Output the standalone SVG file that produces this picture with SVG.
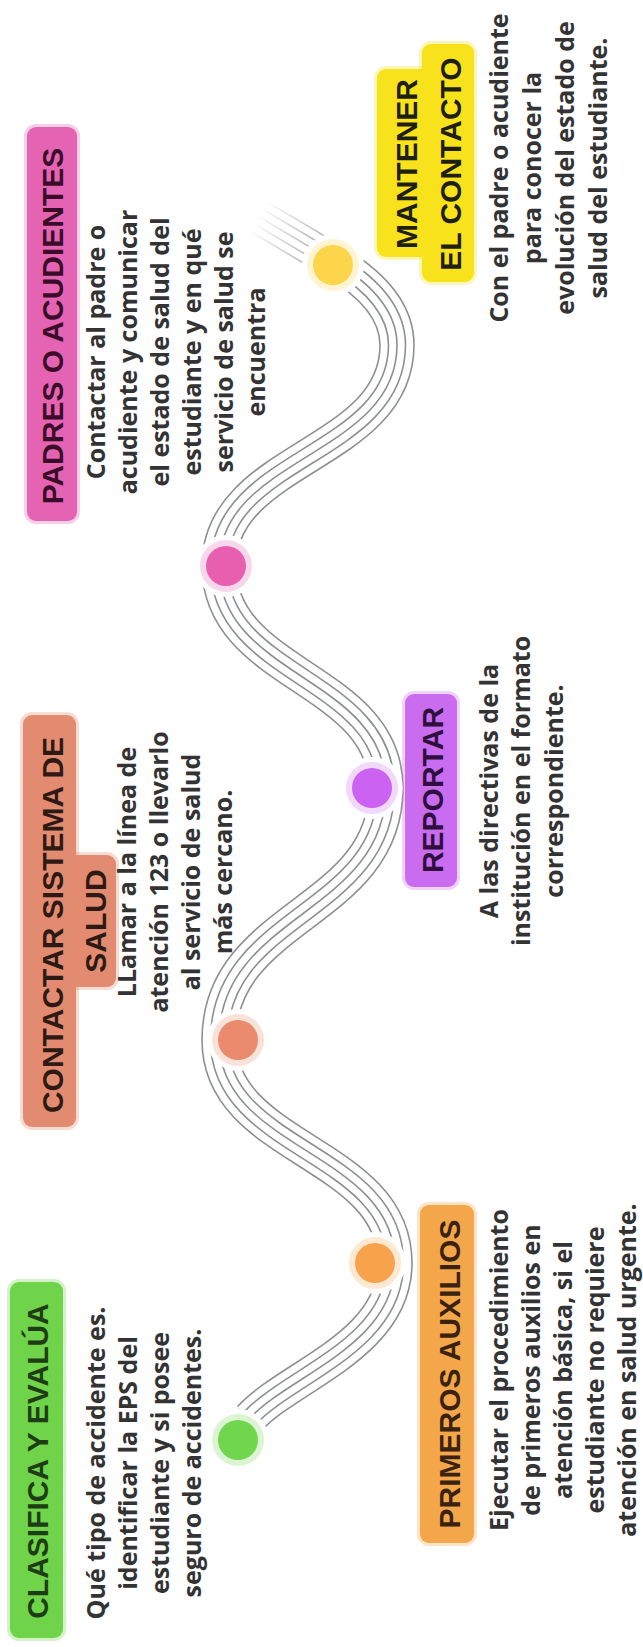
<svg xmlns="http://www.w3.org/2000/svg" xmlns:xlink="http://www.w3.org/1999/xlink" width="643" height="1647" viewBox="0 0 643 1647">
<style>
.lbl{font-family:"Liberation Sans",Arial,sans-serif;font-weight:bold;font-size:30px;text-anchor:middle}
.desc{font-family:"Open Sans","Liberation Sans",Arial,sans-serif;font-weight:700;font-size:25px;text-anchor:middle;fill:#333}
.g1{fill:none;stroke:#8d9092;stroke-width:35.6}
.w1{fill:none;stroke:#fff;stroke-width:32.4}
.g2{fill:none;stroke:#8d9092;stroke-width:18.6}
.w2{fill:none;stroke:#fff;stroke-width:15.4}
.g3{fill:none;stroke:#8d9092;stroke-width:1.6}
.t1{fill:none;stroke:url(#fade);stroke-width:35.6}
.t2{fill:none;stroke:url(#fade);stroke-width:18.6}
.t3{fill:none;stroke:url(#fade);stroke-width:1.6}
.halo{fill:#fff}
</style>
<defs>
<path id="road" d="M 250,1418 C 290,1375 395,1345 395,1263 C 395,1151 219,1151 219,1040 C 219,914 386,914 386,788 C 386,677 219,677 219,566 C 219,456 397,456 397,345 C 397,310 370,283 335,262"/>
<path id="tail" d="M 335,262 L 256,215"/>
<linearGradient id="fade" gradientUnits="userSpaceOnUse" x1="335" y1="262" x2="256" y2="215">
<stop offset="0" stop-color="#8d9092" stop-opacity="0.9"/>
<stop offset="1" stop-color="#8d9092" stop-opacity="0"/>
</linearGradient>
</defs>
<rect width="643" height="1647" fill="#fff"/>
<g id="connectors">
<use xlink:href="#road" class="g1"/>
<use xlink:href="#road" class="w1"/>
<use xlink:href="#road" class="g2"/>
<use xlink:href="#road" class="w2"/>
<use xlink:href="#road" class="g3"/>
<use xlink:href="#tail" class="t1"/>
<use xlink:href="#tail" class="w1"/>
<use xlink:href="#tail" class="t2"/>
<use xlink:href="#tail" class="w2"/>
<use xlink:href="#tail" class="t3"/>
</g>
<g id="clasifica">
<circle class="halo" cx="238" cy="1440" r="31"/>
<circle cx="238" cy="1440" r="26" fill="#6fd64e" opacity="0.25"/>
<circle cx="238" cy="1440" r="20" fill="#6fd64e"/>
<rect x="10" y="1282" width="53" height="356" rx="9" fill="#6fd44a" stroke="#6fd44a" stroke-opacity="0.3" stroke-width="6"/>
<text class="lbl" fill="#1e3d14" transform="translate(48,1461) rotate(-90)">CLASIFICA Y EVALÚA</text>
<text class="desc" transform="translate(105,1463) rotate(-90)">Qué tipo de accidente es.</text>
<text class="desc" transform="translate(137,1463) rotate(-90)">identificar la EPS del</text>
<text class="desc" transform="translate(169,1463) rotate(-90)">estudiante y si posee</text>
<text class="desc" transform="translate(201,1463) rotate(-90)">seguro de accidentes.</text>
</g>
<g id="primeros">
<circle class="halo" cx="375" cy="1263" r="31"/>
<circle cx="375" cy="1263" r="26" fill="#f7a34b" opacity="0.25"/>
<circle cx="375" cy="1263" r="20" fill="#f7a34b"/>
<rect x="420" y="1205" width="54" height="338" rx="9" fill="#f4a64a" stroke="#f4a64a" stroke-opacity="0.3" stroke-width="6"/>
<text class="lbl" fill="#3a2210" transform="translate(460,1374) rotate(-90)">PRIMEROS AUXILIOS</text>
<text class="desc" transform="translate(508,1370) rotate(-90)">Ejecutar el procedimiento</text>
<text class="desc" transform="translate(540,1370) rotate(-90)">de primeros auxilios en</text>
<text class="desc" transform="translate(572,1370) rotate(-90)">atención básica, si el</text>
<text class="desc" transform="translate(604,1370) rotate(-90)">estudiante no requiere</text>
<text class="desc" transform="translate(636,1370) rotate(-90)">atención en salud urgente.</text>
</g>
<g id="contactar">
<circle class="halo" cx="238" cy="1040" r="31"/>
<circle cx="238" cy="1040" r="26" fill="#e98b6c" opacity="0.25"/>
<circle cx="238" cy="1040" r="20" fill="#e98b6c"/>
<rect x="23" y="715" width="53" height="412" rx="9" fill="#e38b70" stroke="#e38b70" stroke-opacity="0.3" stroke-width="6"/>
<rect x="68" y="855" width="48" height="132" rx="9" fill="#e38b70" stroke="#e38b70" stroke-opacity="0.3" stroke-width="6"/>
<rect x="60" y="858" width="20" height="126" fill="#e38b70"/>
<text class="lbl" fill="#2e1a14" transform="translate(63,925) rotate(-90)">CONTACTAR SISTEMA DE</text>
<text class="lbl" fill="#2e1a14" transform="translate(106,921) rotate(-90)">SALUD</text>
<text class="desc" transform="translate(136,872) rotate(-90)">LLamar a la línea de</text>
<text class="desc" transform="translate(168,872) rotate(-90)">atención 123 o llevarlo</text>
<text class="desc" transform="translate(200,872) rotate(-90)">al servicio de salud</text>
<text class="desc" transform="translate(232,872) rotate(-90)">más cercano.</text>
</g>
<g id="reportar">
<circle class="halo" cx="372" cy="788" r="31"/>
<circle cx="372" cy="788" r="26" fill="#cc62f2" opacity="0.25"/>
<circle cx="372" cy="788" r="20" fill="#cc62f2"/>
<rect x="405" y="694" width="52" height="193" rx="9" fill="#c96cf0" stroke="#c96cf0" stroke-opacity="0.3" stroke-width="6"/>
<text class="lbl" fill="#2e0f3d" transform="translate(443,790) rotate(-90)">REPORTAR</text>
<text class="desc" transform="translate(498,791) rotate(-90)">A las directivas de la</text>
<text class="desc" transform="translate(530,791) rotate(-90)">institución en el formato</text>
<text class="desc" transform="translate(563,791) rotate(-90)">correspondiente.</text>
</g>
<g id="padres">
<circle class="halo" cx="226" cy="566" r="31"/>
<circle cx="226" cy="566" r="26" fill="#e95fb0" opacity="0.25"/>
<circle cx="226" cy="566" r="20" fill="#e95fb0"/>
<rect x="27" y="127" width="50" height="394" rx="9" fill="#e563b3" stroke="#e563b3" stroke-opacity="0.3" stroke-width="6"/>
<text class="lbl" fill="#3a0c28" transform="translate(63,326) rotate(-90)">PADRES O ACUDIENTES</text>
<text class="desc" transform="translate(105,352) rotate(-90)">Contactar al padre o</text>
<text class="desc" transform="translate(137,352) rotate(-90)">acudiente y comunicar</text>
<text class="desc" transform="translate(169,352) rotate(-90)">el estado de salud del</text>
<text class="desc" transform="translate(201,352) rotate(-90)">estudiante y en qué</text>
<text class="desc" transform="translate(233,352) rotate(-90)">servicio de salud se</text>
<text class="desc" transform="translate(265,352) rotate(-90)">encuentra</text>
</g>
<g id="mantener">
<circle class="halo" cx="333" cy="265" r="31"/>
<circle cx="333" cy="265" r="26" fill="#fcd54a" opacity="0.25"/>
<circle cx="333" cy="265" r="20" fill="#fcd54a"/>
<rect x="377" y="69" width="54" height="188" rx="9" fill="#f8e21b" stroke="#f8e21b" stroke-opacity="0.3" stroke-width="6"/>
<rect x="422" y="44" width="52" height="238" rx="9" fill="#f8e21b" stroke="#f8e21b" stroke-opacity="0.3" stroke-width="6"/>
<rect x="415" y="72" width="20" height="182" fill="#f8e21b"/>
<text class="lbl" fill="#1f1f10" transform="translate(417,164) rotate(-90)">MANTENER</text>
<text class="lbl" fill="#1f1f10" transform="translate(461,164) rotate(-90)">EL CONTACTO</text>
<text class="desc" transform="translate(508,168) rotate(-90)">Con el padre o acudiente</text>
<text class="desc" transform="translate(541,168) rotate(-90)">para conocer la</text>
<text class="desc" transform="translate(574,168) rotate(-90)">evolución del estado de</text>
<text class="desc" transform="translate(607,168) rotate(-90)">salud del estudiante.</text>
</g>
</svg>
